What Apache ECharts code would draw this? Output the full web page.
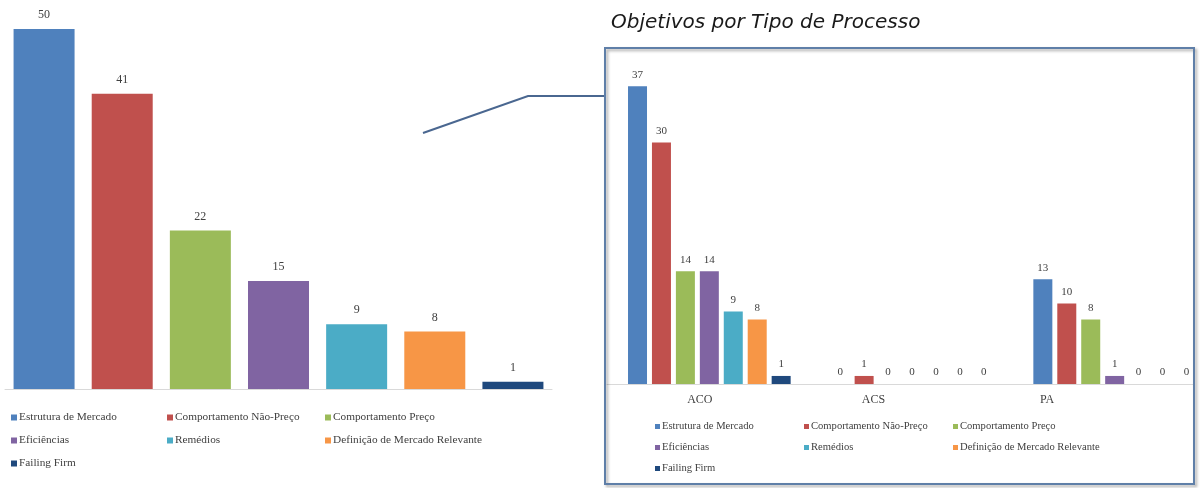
<!DOCTYPE html>
<html>
<head>
<meta charset="utf-8">
<script src="https://cdn.jsdelivr.net/npm/echarts@6/dist/echarts.min.js"></script>
<style>
  html, body { margin: 0; padding: 0; background: #fff; }
  #chart { width: 1200px; height: 488px; }
</style>
</head>
<body>
<div id="chart"></div>
<script>
// temas (legend / bar order)
var temas = ['Estrutura de Mercado', 'Comportamento Não-Preço', 'Comportamento Preço', 'Eficiências', 'Remédios', 'Definição de Mercado Relevante', 'Failing Firm']
var cores = ['#4f81bd', '#c0504d', '#9bbb59', '#8064a2', '#4bacc6', '#f79646', '#1f497d']
// left chart: total per tema
var totais = [50, 41, 22, 15, 9, 8, 1]
// right chart: per tipo de processo
var processos = ['ACO', 'ACS', 'PA']
var aco = [37, 30, 14, 14, 9, 8, 1]
var acs = [0, 1, 0, 0, 0, 0, 0]
var pa = [13, 10, 8, 1, 0, 0, 0]

var serif = '"Liberation Serif", "DejaVu Serif", serif'
var valLabel = {
  show: true,
  position: 'top',
  distance: 6,
  color: '#404040',
  fontFamily: serif,
  fontSize: 11
}

var series = []
for (var i = 0; i < temas.length; i++) {
  var d = []
  for (var j = 0; j < totais.length; j++) {
    d.push(j === i ? totais[j] : '-')
  }
  series.push({
    name: temas[i],
    type: 'bar',
    xAxisIndex: 0,
    yAxisIndex: 0,
    barWidth: 61,
    barGap: '-100%',
    itemStyle: { color: cores[i] },
    label: Object.assign({}, valLabel, { fontSize: 12, distance: 8 }),
    data: d
  })
}
for (var k = 0; k < temas.length; k++) {
  series.push({
    name: temas[k],
    type: 'bar',
    xAxisIndex: 1,
    yAxisIndex: 1,
    barWidth: 19,
    barGap: '26%',
    itemStyle: { color: cores[k] },
    label: valLabel,
    data: [aco[k], acs[k], pa[k]]
  })
}

function legendCol(names, left, top, gap, size, mark, shift) {
  return {
    orient: 'vertical',
    left: left,
    top: top,
    itemWidth: mark,
    itemHeight: mark,
    itemGap: gap,
    icon: 'rect',
    padding: 0,
    selectedMode: false,
    textStyle: { fontFamily: serif, fontSize: size, color: '#404040', padding: [0, 0, 0, shift] },
    data: names
  }
}

var chart = echarts.init(document.getElementById('chart'))
chart.setOption({
  animation: false,
  backgroundColor: '#ffffff',
  title: {
    text: 'Objetivos por Tipo de Processo',
    left: 606,
    top: 8,
    textStyle: {
      fontFamily: '"DejaVu Sans", sans-serif',
      fontStyle: 'italic',
      fontWeight: 'normal',
      fontSize: 20,
      color: '#1a1a1a'
    }
  },
  grid: [
    { left: 5, top: 29, width: 547, height: 360, outerBoundsMode: 'none' },
    { left: 608, top: 62, width: 608, height: 322, outerBoundsMode: 'none' },
    { left: 613, top: 62, width: 521, height: 322, outerBoundsMode: 'none' },
    { left: 607, top: 62, width: 586, height: 322, outerBoundsMode: 'none' }
  ],
  xAxis: [
    { gridIndex: 0, type: 'category', data: temas,
      axisLine: { lineStyle: { color: '#d9d9d9' } }, axisTick: { show: false }, axisLabel: { show: false } },
    { gridIndex: 1, type: 'category', data: processos,
      axisLine: { show: false }, axisTick: { show: false }, axisLabel: { show: false } },
    { gridIndex: 2, type: 'category', data: processos,
      axisLine: { show: false }, axisTick: { show: false },
      axisLabel: { margin: 10, color: '#404040', fontFamily: serif, fontSize: 12 } },
    { gridIndex: 3, type: 'category', data: processos,
      axisLine: { lineStyle: { color: '#d9d9d9' } }, axisTick: { show: false }, axisLabel: { show: false } }
  ],
  yAxis: [
    { gridIndex: 0, type: 'value', min: 0, max: 50, show: false },
    { gridIndex: 1, type: 'value', min: 0, max: 40, show: false },
    { gridIndex: 2, type: 'value', min: 0, max: 40, show: false },
    { gridIndex: 3, type: 'value', min: 0, max: 40, show: false }
  ],
  legend: [
    legendCol([temas[0], temas[3], temas[6]], 11, 412, 12, 11.3, 6, -3),
    legendCol([temas[1], temas[4]], 167, 412, 12, 11.3, 6, -3),
    legendCol([temas[2], temas[5]], 325, 412, 12, 11.3, 6, -3),
    legendCol([temas[0], temas[3], temas[6]], 655, 421, 10, 10.6, 5, -3),
    legendCol([temas[1], temas[4]], 804, 421, 10, 10.6, 5, -3),
    legendCol([temas[2], temas[5]], 953, 421, 10, 10.6, 5, -3)
  ],
  graphic: [
    {
      type: 'rect',
      shape: { x: 605, y: 48, width: 589, height: 436 },
      style: { fill: 'none', stroke: '#5f7fa8', lineWidth: 2,
        shadowColor: 'rgba(0,0,0,0.35)', shadowBlur: 3, shadowOffsetX: 2, shadowOffsetY: 2 },
      z: 10
    },
    {
      type: 'polyline',
      shape: { points: [[423, 133], [528, 96], [604, 96]] },
      style: { fill: 'none', stroke: '#4a6790', lineWidth: 2 },
      z: 10
    }
  ],
  series: series
})
</script>
</body>
</html>
